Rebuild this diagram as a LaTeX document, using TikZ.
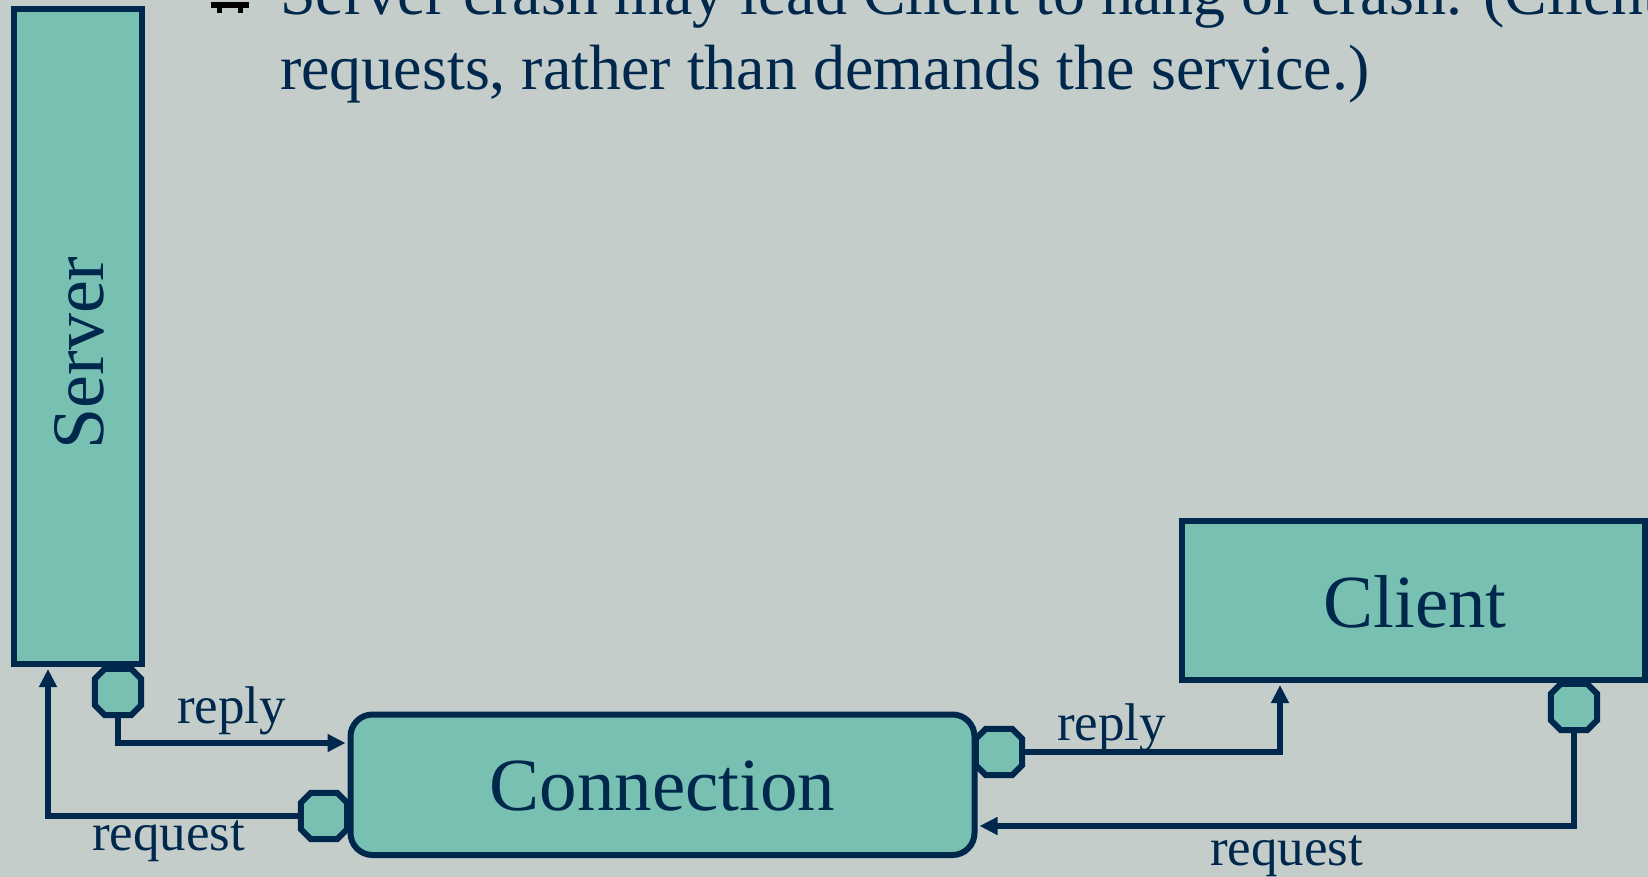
\documentclass[tikz,border=0pt]{standalone}
\usepackage{fontspec}
\setmainfont{Liberation Serif}
\usetikzlibrary{arrows.meta,calc}
\definecolor{bg}{RGB}{196,205,202}
\definecolor{boxfill}{RGB}{120,192,177}
\definecolor{navy}{RGB}{0,40,77}
\tikzset{
  box/.style={draw=navy, fill=boxfill, line width=6pt, inner sep=0pt, rectangle},
  portnode/.style={rectangle, draw=none, inner sep=0pt, minimum width=46pt, minimum height=46pt},
  portline/.style={draw=navy, fill=boxfill, line width=6pt, line join=miter},
  wire/.style={draw=navy, line width=6pt, -{Triangle[length=18pt,width=17pt]}, shorten >=2pt},
  bigtext/.style={text=navy, inner sep=0pt, font=\fontsize{75}{80}\selectfont},
  smalltext/.style={text=navy, inner sep=0pt, font=\fontsize{53}{60}\selectfont, anchor=base west},
  bodytext/.style={text=navy, inner sep=0pt, font=\fontsize{64}{75}\selectfont, anchor=base west}
}
\newcommand\octaport[1]{%
  \path[portline] ($(#1.north west)+(10,0)$) -- ($(#1.north east)+(-10,0)$)
    -- ($(#1.north east)+(0,10)$) -- ($(#1.south east)+(0,-10)$)
    -- ($(#1.south east)+(-10,0)$) -- ($(#1.south west)+(10,0)$)
    -- ($(#1.south west)+(0,-10)$) -- ($(#1.north west)+(0,10)$) -- cycle;}
\begin{document}
\begin{tikzpicture}[x=1pt,y=-1pt]
\useasboundingbox (0,0) rectangle (1648,877);
\fill[bg] (0,0) rectangle (1648,877);

% top text
\fill[black] (211,2) rectangle (249,8);
\fill[black] (217,8) rectangle (222,13);
\fill[black] (238,8) rectangle (243,13);
\node[bodytext] (line1) at (280,15) {Server crash may lead Client to hang or crash. (Client};
\node[bodytext] (line2) at (280,90) {requests, rather than demands the service.)};

% boxes
\node[box, minimum width=128pt, minimum height=655pt] (server) at (78,336.5) {};
\node[bigtext, rotate=90, anchor=base, font=\fontsize{74}{80}\selectfont] (servertxt) at (103,353) {Server};

\node[box, rounded corners=22pt, minimum width=624pt, minimum height=140.5pt] (conn) at (662.5,784.75) {};
\node[bigtext, anchor=base] (conntxt) at (662.5,810) {Connection};

\node[box, minimum width=463pt, minimum height=159pt] (client) at (1413,600.5) {};
\node[bigtext, anchor=base] (clienttxt) at (1415,627) {Client};

% ports
\node[portnode] (sp) at (118,692) {};
\node[portnode] (cl) at (324,816) {};
\node[portnode] (cr) at (999,752) {};
\node[portnode] (cp) at (1574,707) {};
\octaport{sp}
\octaport{cl}
\octaport{cr}
\octaport{cp}

% helper coordinates
\coordinate (ly1) at (0,743);
\coordinate (lx) at (48,0);
\coordinate (rx) at (1280,0);
\coordinate (ry) at (0,826);

% connectors
\draw[wire] (sp.south) |- (conn.west |- ly1);
\draw[wire] (cl.west) -| (lx |- server.south);
\draw[wire] (cr.east) -| (rx |- client.south);
\draw[wire] (cp.south) |- (conn.east |- ry);

% labels
\node[smalltext] (lreply) at (177,723) {reply};
\node[smalltext] (lrequest) at (92,850) {request};
\node[smalltext] (rreply) at (1057,740) {reply};
\node[smalltext] (rrequest) at (1210,865) {request};
\end{tikzpicture}
\end{document}
